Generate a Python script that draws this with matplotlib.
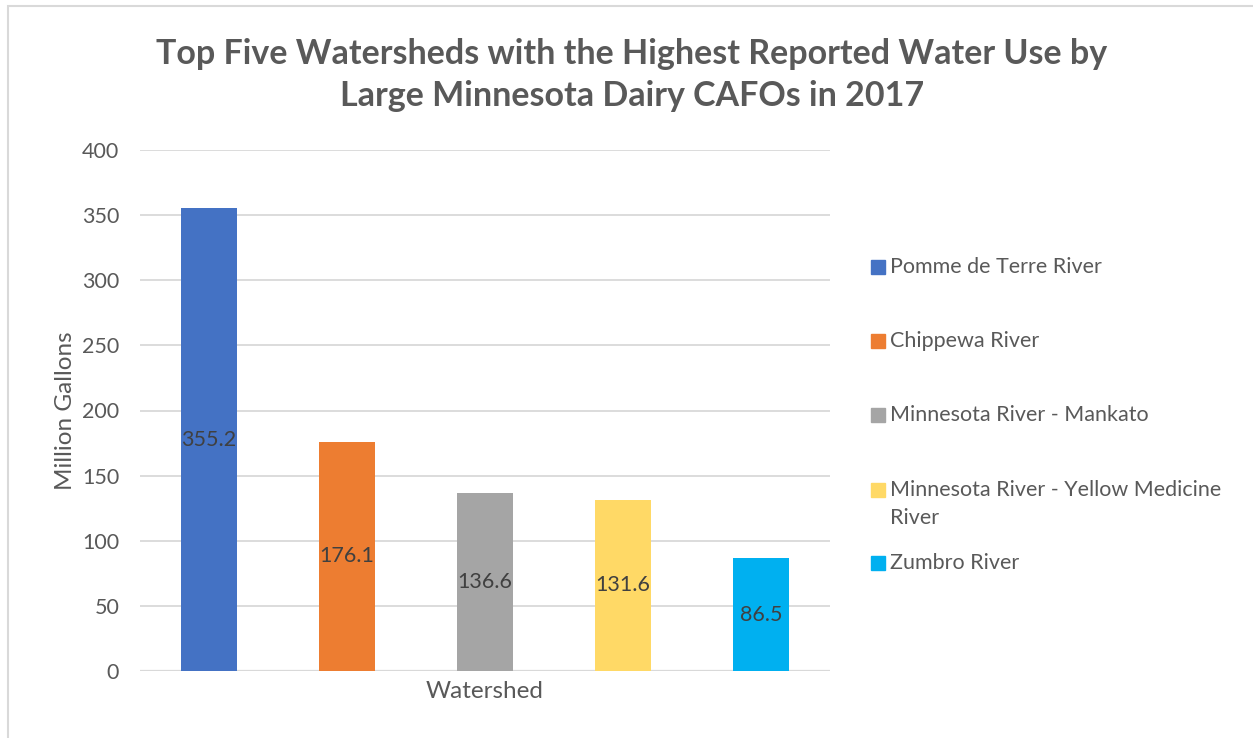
import matplotlib.pyplot as plt
from matplotlib.patches import Rectangle

# data
watersheds = ["Pomme de Terre River", "Chippewa River", "Minnesota River - Mankato",
              "Minnesota River - Yellow Medicine\nRiver", "Zumbro River"]
water_use = [355.2, 176.1, 136.6, 131.6, 86.5]
bar_colors = ["#4472C4", "#ED7D31", "#A5A5A5", "#FFD966", "#00B0F0"]
y_ticks = [0, 50, 100, 150, 200, 250, 300, 350, 400]

plt.rcParams["font.family"] = ["Lato", "DejaVu Sans"]
text_gray = "#595959"

fig = plt.figure(figsize=(12.53, 7.38), dpi=100)
ax = fig.add_axes([140 / 1253, 1 - 671 / 738, 690 / 1253, 521 / 738])

# bars with value labels in the middle
xs = range(len(water_use))
ax.bar(xs, water_use, width=0.406, color=bar_colors, zorder=3)
for x, v in zip(xs, water_use):
    ax.text(x, v / 2, f"{v:.1f}", ha="center", va="center",
            fontsize=15.5, color="#404040", zorder=4)

ax.set_xlim(-0.5, 4.5)
ax.set_ylim(0, 400)
ax.set_yticks(y_ticks)
ax.set_xticks([])
ax.tick_params(axis="y", length=0, pad=15, labelsize=15.5, labelcolor=text_gray)
ax.grid(axis="y", color="#D9D9D9", linewidth=1.3, zorder=0)
for s in ax.spines.values():
    s.set_visible(False)
ax.axhline(0, color="#D9D9D9", linewidth=1.6, zorder=2)

ax.set_xlabel("Watershed", fontsize=17.5, color=text_gray, labelpad=7)
ax.set_ylabel("Million Gallons", fontsize=17.5, color=text_gray, labelpad=4)

fig.text(632 / 1253, 1 - 75 / 738,
         "Top Five Watersheds with the Highest Reported Water Use by\n"
         "Large Minnesota Dairy CAFOs in 2017",
         ha="center", va="center", fontsize=24.5, fontweight="bold",
         color=text_gray, linespacing=1.4)

# legend drawn by hand to match Excel layout
legend_y = [267, 341, 415, 490, 563]
for name, col, ly in zip(watersheds, bar_colors, legend_y):
    fig.patches.append(Rectangle((871 / 1253, 1 - (ly + 7) / 738), 14 / 1253, 14 / 738,
                                 transform=fig.transFigure, color=col))
    if "\n" in name:
        fig.text(890 / 1253, 1 - (ly - 10) / 738, name, ha="left", va="top",
                 fontsize=15.5, color=text_gray, linespacing=1.5)
    else:
        fig.text(890 / 1253, 1 - ly / 738, name, ha="left", va="center",
                 fontsize=15.5, color=text_gray)

# chart border
fig.patches.append(Rectangle((8 / 1253, -0.05), 1.1, 1 - 6 / 738 + 0.05,
                             transform=fig.transFigure, fill=False,
                             edgecolor="#D9D9D9", linewidth=1.5))

fig.savefig("out.png", dpi=100, facecolor="white")
